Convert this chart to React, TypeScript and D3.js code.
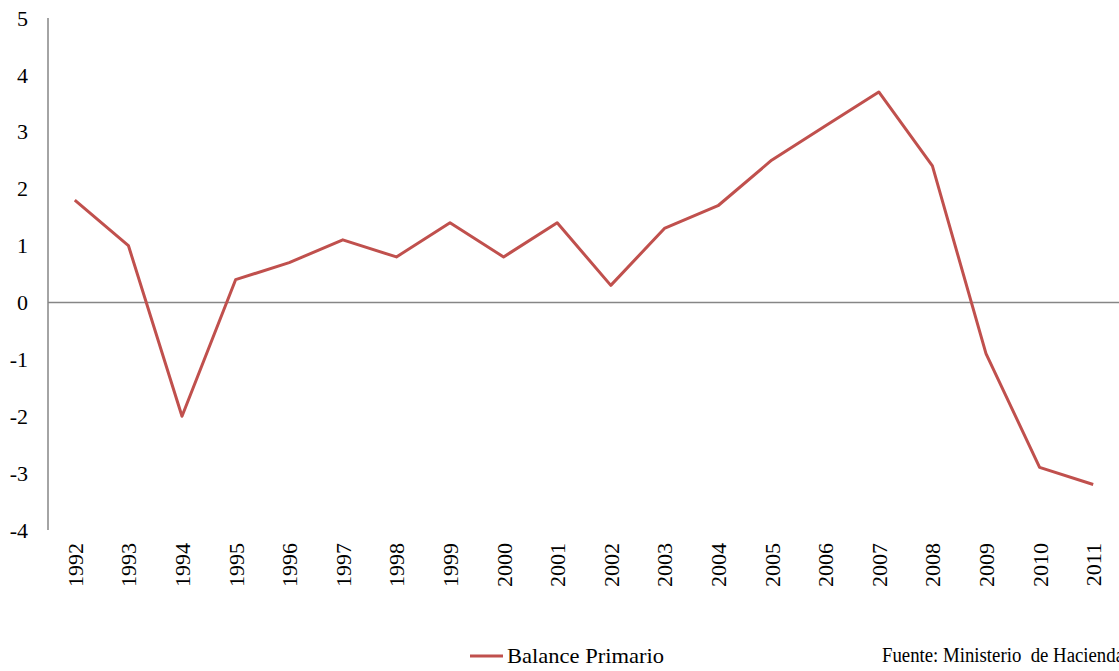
import React from "react";
import * as d3 from "d3";

const years = [
  "1992", "1993", "1994", "1995", "1996", "1997", "1998", "1999", "2000", "2001",
  "2002", "2003", "2004", "2005", "2006", "2007", "2008", "2009", "2010", "2011",
];
const balancePrimario = [
  1.8, 1.0, -2.0, 0.4, 0.7, 1.1, 0.8, 1.4, 0.8, 1.4,
  0.3, 1.3, 1.7, 2.5, 3.1, 3.7, 2.4, -0.9, -2.9, -3.2,
];
const yTicks = [5, 4, 3, 2, 1, 0, -1, -2, -3, -4];
const seriesName = "Balance Primario";
const sourceNote = "Fuente: Ministerio  de Hacienda";

const WIDTH = 1119;
const HEIGHT = 671;
const LEFT = 48;
const RIGHT = 1120;
const TOP = 18;
const BOTTOM = 530;
const LINE_COLOR = "#C0504D";
const AXIS_COLOR = "#868686";
const FONT = "'Liberation Serif', 'Times New Roman', serif";

export default function App() {
  const x = d3.scaleBand<string>().domain(years).range([LEFT, RIGHT]);
  const y = d3.scaleLinear().domain([-4, 5]).range([BOTTOM, TOP]);

  const line = d3
    .line<number>()
    .x((_, i) => (x(years[i]) ?? 0) + x.bandwidth() / 2)
    .y((d) => y(d));

  return (
    <svg
      width={WIDTH}
      height={HEIGHT}
      style={{ position: "absolute", left: 0, top: 0 }}
      fontFamily={FONT}
    >
      {/* y axis */}
      <line x1={LEFT} x2={LEFT} y1={TOP} y2={BOTTOM} stroke={AXIS_COLOR} strokeWidth={1.5} />
      {yTicks.map((t) => (
        <text
          key={t}
          x={28}
          y={y(t)}
          dy="0.35em"
          textAnchor="end"
          fontSize={22}
          fill="#000"
        >
          {t}
        </text>
      ))}
      {/* zero line */}
      <line x1={LEFT} x2={WIDTH} y1={y(0)} y2={y(0)} stroke={AXIS_COLOR} strokeWidth={1.5} />

      {/* x labels */}
      {years.map((yr) => {
        const cx = (x(yr) ?? 0) + x.bandwidth() / 2;
        return (
          <text
            key={yr}
            transform={`translate(${cx + 8},543) rotate(-90)`}
            textAnchor="end"
            fontSize={22}
            fill="#000"
          >
            {yr}
          </text>
        );
      })}

      {/* series */}
      <path
        d={line(balancePrimario) ?? ""}
        fill="none"
        stroke={LINE_COLOR}
        strokeWidth={3}
        strokeLinejoin="round"
      />

      {/* legend */}
      <line x1={470} x2={503} y1={656} y2={656} stroke={LINE_COLOR} strokeWidth={3} />
      <text
        x={507}
        y={663}
        fontSize={22}
        textLength={157}
        lengthAdjust="spacingAndGlyphs"
        fill="#000"
      >
        {seriesName}
      </text>
      <text
        x={882}
        y={662}
        fontSize={20}
        textLength={242}
        lengthAdjust="spacingAndGlyphs"
        style={{ whiteSpace: "pre" }}
        fill="#000"
      >
        {sourceNote}
      </text>
    </svg>
  );
}
